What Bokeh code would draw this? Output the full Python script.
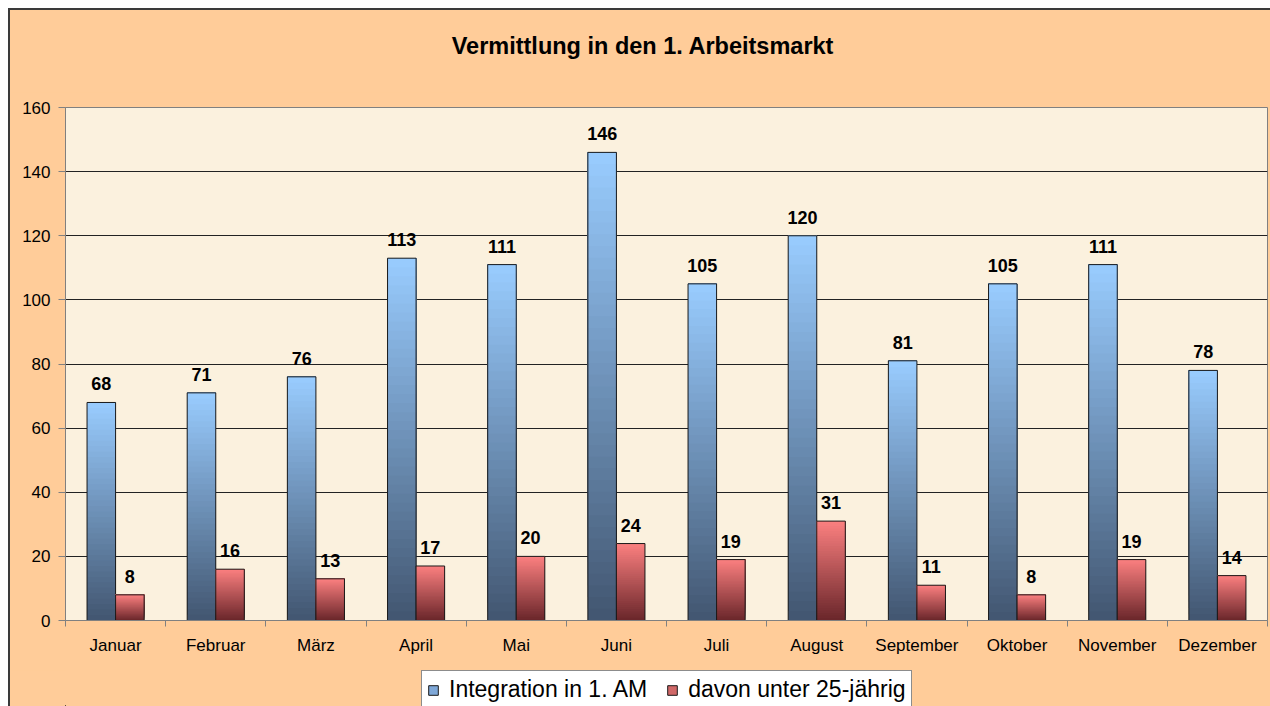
import numpy as np
from bokeh.plotting import figure
from bokeh.layouts import column
from bokeh.models import FixedTicker, Range1d, Legend, LegendItem, ColumnDataSource
from bokeh.embed import file_html
from bokeh.resources import INLINE
from bokeh.core.properties import value

months = ["Januar", "Februar", "März", "April", "Mai", "Juni", "Juli",
          "August", "September", "Oktober", "November", "Dezember"]
integration = [68, 71, 76, 113, 111, 146, 105, 120, 81, 105, 111, 78]
unter25 = [8, 16, 13, 17, 20, 24, 19, 31, 11, 8, 19, 14]
y_ticks = [0, 20, 40, 60, 80, 100, 120, 140, 160]
series_names = ["Integration in 1. AM", "davon unter 25-jährig"]
title_text = "Vermittlung in den 1. Arbeitsmarkt"

FONT = "Liberation Sans"
BG = "#FFCC99"
W = 1260
BL, BR = 55, 3          # left / right border of the main chart (px)
BAR_W = 0.285
OFFS = [-0.1425, 0.1425]
BLUE_TOP, BLUE_BOT = (153, 204, 255), (66, 86, 112)
RED_TOP, RED_BOT = (252, 128, 128), (105, 38, 42)


def blank(height):
    # strip figure whose x range is in canvas pixels (frames are aligned with the main chart)
    f = figure(width=W, height=height, x_range=Range1d(BL, W - BR), y_range=Range1d(0, height),
               output_backend="svg", toolbar_location=None,
               min_border_left=0, min_border_right=0, min_border_top=0, min_border_bottom=0)
    f.axis.visible = False
    f.grid.grid_line_color = None
    f.outline_line_color = None
    f.background_fill_color = BG
    f.border_fill_color = BG
    return f

# ---- title strip
TH = 82
pt = blank(TH)
pt.text(x=[632.5], y=[TH - 35], text=[title_text], text_align="center",
        text_baseline="middle", text_font=value(FONT), text_font_size="23.5px",
        text_font_style="bold", text_color="black")

# ---- main chart
p = figure(width=W, height=578, x_range=Range1d(0, 12), y_range=Range1d(0, 160),
           output_backend="svg", toolbar_location=None,
           min_border_left=BL, min_border_right=BR, min_border_top=15, min_border_bottom=50)
p.background_fill_color = "#FBF1DE"
p.border_fill_color = BG
p.outline_line_color = "#808080"
p.outline_line_width = 1

N = 40
def hexc(c):
    return "#%02x%02x%02x" % c

def add_gradient_bars(values, off, top_rgb, bot_rgb):
    centers = [i + 0.5 + off for i in range(len(values))]
    for k in range(N):
        f = (k + 0.5) / N
        col = tuple(int(round(bot_rgb[j] + (top_rgb[j] - bot_rgb[j]) * f)) for j in range(3))
        src = ColumnDataSource(dict(x=centers,
                                    bottom=[v * k / N for v in values],
                                    top=list(values)))
        p.vbar(x="x", bottom="bottom", top="top", width=BAR_W, source=src,
               fill_color=hexc(col), line_color=None)
    p.vbar(x=centers, top=values, width=BAR_W, fill_color=None,
           line_color="#1a1a1a", line_width=1)
    p.text(x=centers, y=values, text=[str(v) for v in values], y_offset=-12,
           text_align="center", text_baseline="bottom", text_font=value(FONT),
           text_font_size="18px", text_font_style="bold", text_color="black")

add_gradient_bars(integration, OFFS[0], BLUE_TOP, BLUE_BOT)
add_gradient_bars(unter25, OFFS[1], RED_TOP, RED_BOT)

p.yaxis.ticker = FixedTicker(ticks=y_ticks)
p.yaxis.axis_line_color = "#808080"
p.yaxis.major_tick_line_color = "#808080"
p.yaxis.major_tick_out = 7
p.yaxis.major_tick_in = 0
p.yaxis.minor_tick_line_color = None
p.yaxis.major_label_text_font = FONT
p.yaxis.major_label_text_font_size = "17px"
p.yaxis.major_label_text_color = "black"
p.yaxis.major_label_standoff = 8

centers = [i + 0.5 for i in range(len(months))]
p.xaxis.ticker = FixedTicker(ticks=centers, minor_ticks=list(range(len(months) + 1)))
p.xaxis.major_label_overrides = {c: m for c, m in zip(centers, months)}
p.xaxis.axis_line_color = "#808080"
p.xaxis.major_tick_out = 0
p.xaxis.major_tick_in = 0
p.xaxis.minor_tick_out = 6
p.xaxis.minor_tick_in = 0
p.xaxis.minor_tick_line_color = "#808080"
p.xaxis.major_label_text_font = FONT
p.xaxis.major_label_text_font_size = "17px"
p.xaxis.major_label_text_color = "black"
p.xaxis.major_label_standoff = 9

p.xgrid.grid_line_color = None
p.ygrid.grid_line_color = "#222222"
p.ygrid.grid_line_width = 1

# ---- legend strip
LH = 36
pl = blank(LH)
r1 = pl.vbar(x=[-100], top=[1], width=1, fill_color="#7FA8D8", line_color="#1a1a1a")
r2 = pl.vbar(x=[-100], top=[1], width=1, fill_color="#D06868", line_color="#1a1a1a")
legend = Legend(items=[LegendItem(label=series_names[0], renderers=[r1]),
                       LegendItem(label=series_names[1], renderers=[r2])],
                orientation="horizontal", location=(356, -3),
                background_fill_color="white", background_fill_alpha=1,
                border_line_color="#1a1a1a", border_line_width=1,
                label_text_font=FONT, label_text_font_size="23px",
                label_text_color="black", glyph_width=12, glyph_height=12,
                label_height=14, label_standoff=10, spacing=19, padding=5, margin=0)
pl.add_layout(legend, "center")

layout = column(pt, p, pl, spacing=0)
layout.styles = {"margin-left": "8px", "margin-top": "8px", "background-color": BG,
                 "border-left": "2px solid #3a3a3a", "border-top": "2px solid #3a3a3a"}

open("out.html", "w").write(file_html(layout, INLINE))
